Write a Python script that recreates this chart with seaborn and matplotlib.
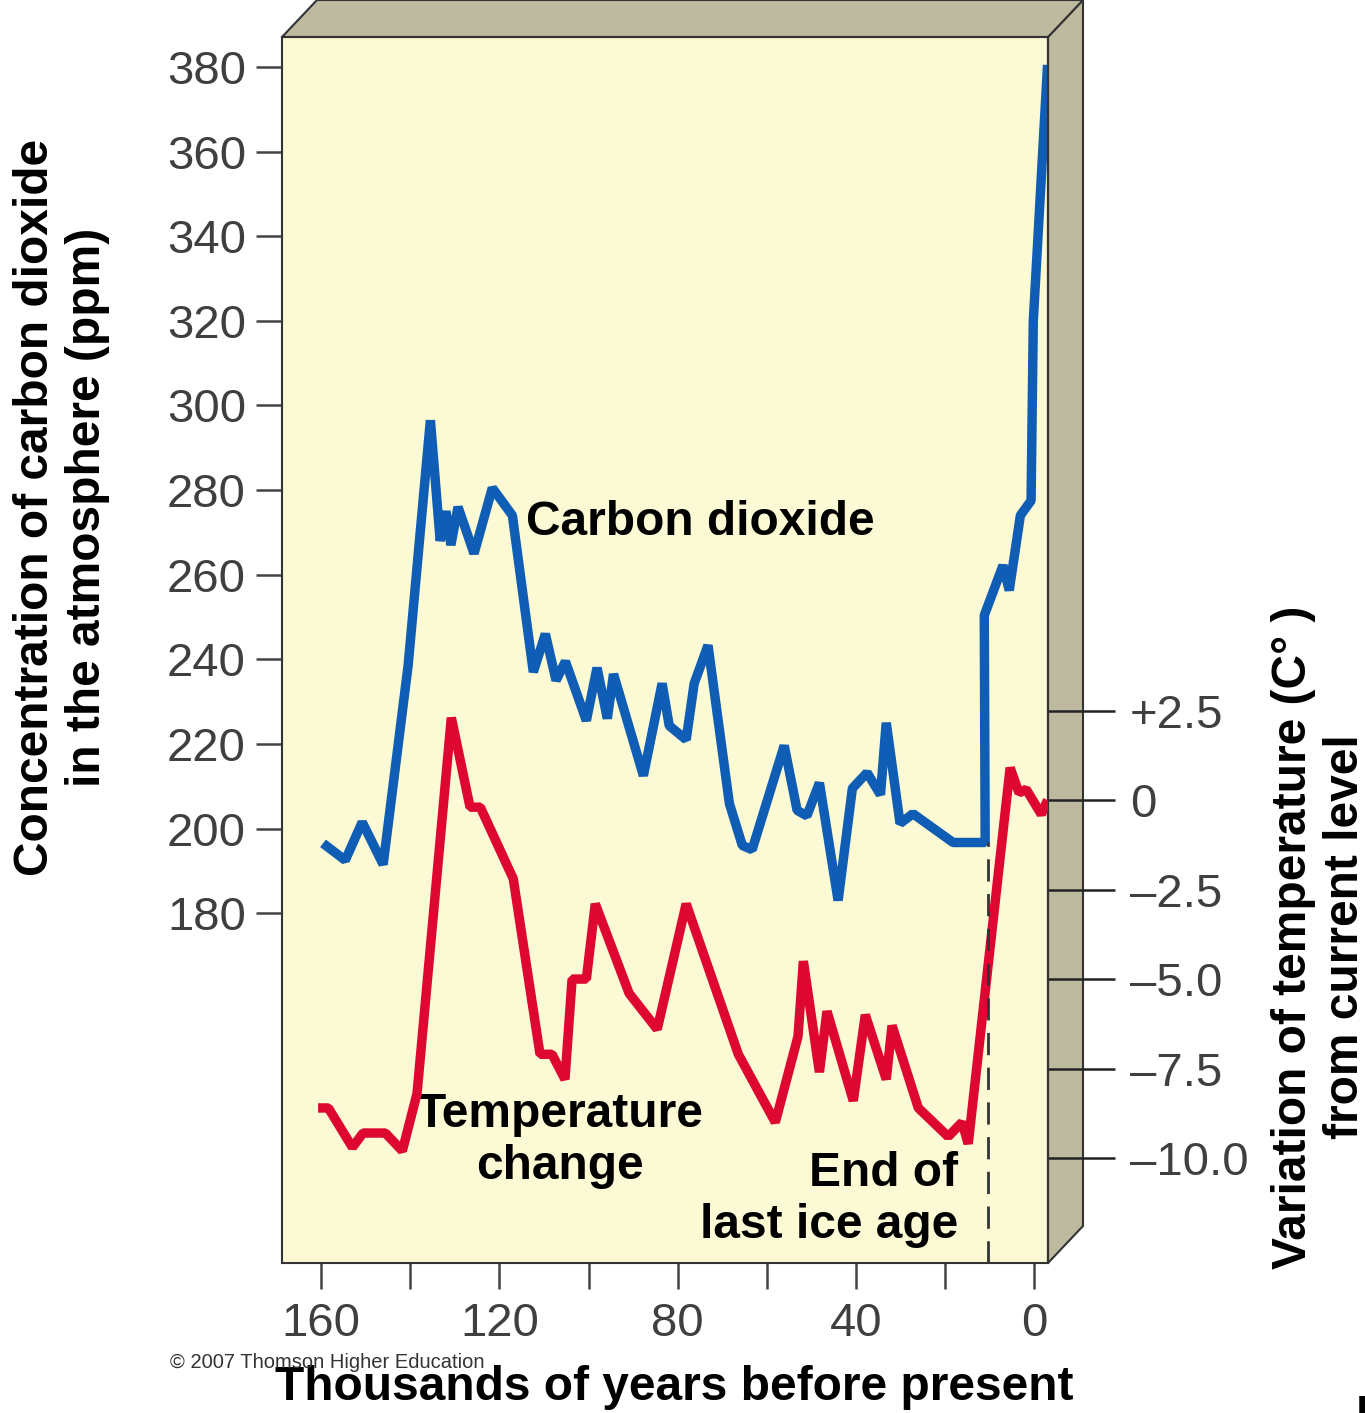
import matplotlib
matplotlib.use("Agg")
import matplotlib.pyplot as plt
import numpy as np
import pandas as pd
import seaborn as sns
from matplotlib.patches import Polygon

# ---- data (thousands of years before present) ----
years_co2 = [159.6, 154.6, 150.8, 146.1, 140.5, 135.5, 133.3, 132.0, 130.9, 129.3,
             125.7, 121.6, 117.1, 112.4, 109.7, 107.3, 105.2, 100.5, 98.1, 95.8,
             94.4, 87.7, 83.5, 81.9, 78.1, 76.3, 73.2, 68.4, 65.5, 63.3,
             56.1, 53.2, 51.0, 48.2, 44.0, 40.8, 37.5, 34.5, 33.2, 30.1,
             27.2, 18.2, 11.0, 11.2, 7.0, 5.6, 3.1, 0.7, 0.2, -3.0]
co2_ppm = [196.5, 192.5, 201.5, 191.5, 238.5, 296.5, 268.0, 275.0, 267.0, 276.0,
           265.0, 280.5, 274.0, 237.0, 246.0, 235.0, 239.5, 225.5, 238.0, 226.0,
           236.5, 212.5, 234.3, 224.3, 221.0, 234.3, 243.3, 205.9, 196.0, 195.0,
           219.6, 204.3, 203.0, 210.8, 183.0, 209.5, 213.2, 208.0, 225.0, 201.2,
           203.5, 196.7, 196.7, 250.4, 262.2, 256.3, 274.0, 277.5, 320.0, 380.5]

years_temp = [160.7, 158.4, 153.0, 150.6, 145.6, 141.8, 138.5, 130.8, 126.6, 124.3,
              116.9, 110.9, 108.2, 105.3, 103.7, 100.5, 98.5, 90.9, 84.6, 78.1,
              66.4, 58.1, 53.0, 51.8, 48.2, 46.5, 40.6, 37.9, 33.2, 31.9,
              26.0, 19.3, 16.2, 14.8, 5.4, 3.4, 1.8, -1.6, -3.0]
temp_change = [-8.6, -8.6, -9.7, -9.3, -9.3, -9.8, -8.2, 2.3, -0.2, -0.2,
               -2.2, -7.1, -7.1, -7.8, -5.0, -5.0, -2.9, -5.4, -6.4, -2.9,
               -7.1, -9.0, -6.6, -4.5, -7.6, -5.9, -8.4, -6.0, -7.8, -6.3,
               -8.6, -9.4, -9.0, -9.6, 0.9, 0.2, 0.3, -0.4, 0.0]

ice_age_end = 10.3

x_ticks = [160, 140, 120, 100, 80, 60, 40, 20, 0]
x_tick_labels = ["160", "", "120", "", "80", "", "40", "", "0"]
co2_ticks = [180, 200, 220, 240, 260, 280, 300, 320, 340, 360, 380]
temp_ticks = [2.5, 0.0, -2.5, -5.0, -7.5, -10.0]
temp_tick_labels = ["+2.5", "0", "\u20132.5", "\u20135.0", "\u20137.5", "\u201310.0"]

co2_df = pd.DataFrame({"years": years_co2, "co2": co2_ppm})
temp_df = pd.DataFrame({"years": years_temp, "temp": temp_change})

# ---- styling ----
sns.set_style("ticks")
plt.rcParams["font.family"] = ["Liberation Sans", "DejaVu Sans"]

YELLOW = "#FCFAD5"
PANEL = "#BEBAA0"
EDGE = "#333333"
BLUE = "#0F5DB5"
RED = "#DD0732"
TICKTXT = "#3f3f3f"

fig = plt.figure(figsize=(13.65, 14.13), dpi=100)
fig.patch.set_facecolor("white")
ax = fig.add_axes([282 / 1365, 1 - 1263 / 1413, 766 / 1365, 1226 / 1413])
ax.set_facecolor(YELLOW)

# box depth (right side and top faces)
dx, dy = 35 / 766, 37 / 1226
side = Polygon([(1, 0), (1, 1), (1 + dx, 1 + dy), (1 + dx, dy)], closed=True,
               transform=ax.transAxes, facecolor=PANEL, edgecolor=EDGE,
               linewidth=1.5, clip_on=False, zorder=0.5)
top = Polygon([(0, 1), (dx, 1 + dy), (1 + dx, 1 + dy), (1, 1)], closed=True,
              transform=ax.transAxes, facecolor=PANEL, edgecolor=EDGE,
              linewidth=1.5, clip_on=False, zorder=0.5)
ax.add_patch(side)
ax.add_patch(top)

sns.lineplot(data=co2_df, x="years", y="co2", ax=ax, color=BLUE, linewidth=6.8,
             sort=False, estimator=None, solid_joinstyle="bevel",
             solid_capstyle="butt", zorder=3)

ax.set_xlim(168.8, -3.1)
ax.set_ylim(97.3, 387.1)
ax.set_xlabel("")
ax.set_ylabel("")

ax.set_yticks(co2_ticks)
ax.set_xticks(x_ticks, labels=x_tick_labels)
ax.tick_params(axis="y", direction="out", length=19, width=1.8, color="#444444",
               pad=7, labelsize=34, labelcolor=TICKTXT)
ax.tick_params(axis="x", direction="out", length=19, width=1.8, color="#444444",
               pad=9, labelsize=34, labelcolor=TICKTXT)
for s in ax.spines.values():
    s.set_visible(True)
    s.set_color(EDGE)
    s.set_linewidth(1.5)

# temperature on a twin axis
ax2 = ax.twinx()
sns.lineplot(data=temp_df, x="years", y="temp", ax=ax2, color=RED, linewidth=6.8,
             sort=False, estimator=None, solid_joinstyle="bevel",
             solid_capstyle="butt", zorder=3)
ax2.set_ylim(-12.93, 21.31)
ax2.set_xlim(168.8, -3.1)
ax2.set_xlabel("")
ax2.set_ylabel("")
ax2.set_yticks(temp_ticks, labels=temp_tick_labels)
ax2.tick_params(axis="y", direction="out", length=48, width=1.8, color="#222222",
                pad=11, labelsize=34, labelcolor=TICKTXT)
for name, s in ax2.spines.items():
    s.set_visible(name == "right")
    s.set_color(EDGE)
    s.set_linewidth(1.5)

ax2.axvline(ice_age_end, ymin=0, ymax=0.343, color="#333333", linewidth=2,
            linestyle=(0, (8, 4.5)), zorder=4)

# annotations
bold = dict(fontsize=34.5, fontweight="bold", color="black")
ax.text(75.0, 272.3, "Carbon dioxide", ha="center", va="center", **bold)
ax.text(106.4, 126.2, "Temperature\nchange", ha="center", va="center",
        multialignment="center", linespacing=1.2, **bold)
ax.text(17.1, 112.3, "End of\nlast ice age", ha="right", va="center",
        multialignment="right", linespacing=1.2, **bold)

# axis titles
fig.text(62 / 1365, 1 - 507 / 1413,
         "Concentration of carbon dioxide\nin the atmosphere (ppm)",
         rotation=90, ha="center", va="center", multialignment="center",
         linespacing=1.2, **bold)
fig.text(1320 / 1365, 1 - 937 / 1413,
         "Variation of temperature (C\u00b0 )\nfrom current level",
         rotation=90, ha="center", va="center", multialignment="center",
         linespacing=1.2, **bold)
fig.text(674 / 1365, 1 - 1387 / 1413, "Thousands of years before present",
         ha="center", va="center", **bold)
fig.text(170 / 1365, 1 - 1362 / 1413, "\u00a9 2007 Thomson Higher Education",
         ha="left", va="center", fontsize=14.5, color="#333333")
fig.text(1356 / 1365, 1 - 1394 / 1413, "F", ha="left", va="top", **bold)

fig.savefig("out.png", dpi=100, facecolor="white")
